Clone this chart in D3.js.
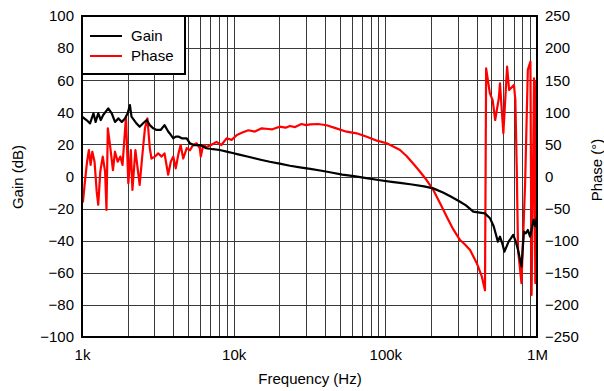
<!DOCTYPE html>
<html><head><meta charset="utf-8">
<script src="https://cdn.jsdelivr.net/npm/d3@7"></script>
<style>body{margin:0;background:#fff}svg{display:block}text{font-family:"Liberation Sans",Arial,sans-serif}</style>
</head><body><div id="chart"></div>
<script>
const gainFreq = [1000,1070,1130,1190,1230,1280,1330,1380,1490,1570,1650,1740,1830,1920,2000,2070,2120,2290,2400,2520,2670,2800,2950,3100,3300,3500,3700,3850,4000,4150,4350,4550,4900,5150,5450,5700,6050,6600,7300,8100,9000,10000,10700,12500,15300,17300,20100,23500,28000,32000,38000,44000,52000,62000,75000,90000,110000,125000,150000,180000,207000,240000,270000,311000,340000,380000,420000,454000,490000,518000,552000,570000,590000,610000,650000,697000,725000,750000,790000,820000,845000,870000,900000,950000,975000,1000000];
const gainDb = [37.3,35.2,33.1,39.4,34,39.4,35.2,38.3,42.5,39.4,34,36.2,34,36.2,39.4,44.5,37.3,33,31,33,35.2,32,30,29,29,32,28,26,23.8,24.8,24.8,23.8,23.8,20.7,19.6,19.6,19.6,17.6,17,16.5,15.5,14.5,13.8,12.3,10.3,9.2,8,6.7,5.5,4.7,3.6,2.5,1.2,0.2,-1,-2.2,-3.3,-4,-5,-6.2,-7.4,-10,-12.5,-15.7,-18,-21.9,-22.5,-23,-26,-31,-40.6,-37.5,-41.6,-46.8,-40.6,-36.4,-40.6,-45.8,-56,-34.4,-35.4,-33.3,-37.5,-27,-31,-25];

const phaseFreq = [1000,1015,1040,1080,1110,1140,1170,1210,1250,1280,1320,1370,1420,1450,1480,1530,1600,1650,1720,1790,1850,1950,2020,2100,2150,2250,2400,2500,2600,2700,2800,2870,3030,3180,3350,3500,3700,3850,4000,4150,4330,4470,4650,4900,5150,5400,5700,5980,6070,6300,6600,7100,7700,8300,8980,9700,10500,11300,12500,13800,15300,16900,18000,20100,22000,23500,25400,28000,30000,31900,36000,41000,47500,55500,64700,75500,88000,102000,112000,125000,138000,152000,170000,187000,207000,230000,254000,280000,311000,335000,362000,401000,433000,454000,462000,489000,510000,530000,560000,570000,600000,635000,655000,705000,720000,735000,750000,790000,835000,870000,905000,921000,956000,975000,990000,1000000];
const phaseDeg = [-37,-39,-13,23,41.3,18,38.6,23,-23.6,-44,7.5,31,7.5,-52,75,49,10,38.6,23,31,18,93,-10.6,41,-21,41,-13,33.5,75,90.6,44,28,31,36,31,36,2.8,23,31,12.7,36,49,28,44,41,49,51.7,44,31,49,46,49,54,49,59.5,57,64.6,68,72,70,75,74,73.5,77.6,76,78.7,77,81.8,80,81.3,81.8,79.8,75,69.8,67.3,62,55.8,51.7,47,41.3,32,20.5,7,-5.5,-21,-42,-62.6,-82,-99,-106,-114.5,-135,-156,-177,168.5,129.6,119,88,121.8,145,67.3,171,134.7,142.5,119,15,-114.5,-166,-10.6,166,179,-184.6,153,-166,150];

const gainTicks = [-100,-80,-60,-40,-20,0,20,40,60,80,100];
const phaseTicks = [-250,-200,-150,-100,-50,0,50,100,150,200,250];
const freqTicks = [1e3,1e4,1e5,1e6];
const freqTickLabels = ["1k","10k","100k","1M"];
const seriesNames = ["Gain","Phase"];
const seriesColors = ["#000000","#ff0000"];

const W = 604, H = 391;
const L = 82, R = 537, T = 16, B = 337;
const svg = d3.select("#chart").append("svg").attr("width", W).attr("height", H);

const x = d3.scaleLog().domain([1e3, 1e6]).range([L, R]);
const yG = d3.scaleLinear().domain([-100, 100]).range([B, T]);
const yP = d3.scaleLinear().domain([-250, 250]).range([B, T]);

// grid
const minor = [];
for (let d = 1e3; d < 1e6; d *= 10) for (let k = 1; k <= 9; k++) minor.push(d * k);
minor.push(1e6);
svg.append("g").selectAll("line").data(minor).join("line")
  .attr("x1", d => Math.round(x(d)) + 0.5).attr("x2", d => Math.round(x(d)) + 0.5)
  .attr("y1", T).attr("y2", B).attr("stroke", "#3a3a3a").attr("stroke-width", 1);
svg.append("g").selectAll("line").data(gainTicks).join("line")
  .attr("x1", L).attr("x2", R)
  .attr("y1", d => Math.round(yG(d)) + 0.5).attr("y2", d => Math.round(yG(d)) + 0.5)
  .attr("stroke", "#3a3a3a").attr("stroke-width", 1);

// data lines
svg.append("clipPath").attr("id", "clp").append("rect")
  .attr("x", L).attr("y", T).attr("width", R - L).attr("height", B - T);
const gainLine = d3.line().x((d, i) => x(gainFreq[i])).y(d => yG(d));
const phaseLine = d3.line().x((d, i) => x(phaseFreq[i])).y(d => yP(d));
const plot = svg.append("g").attr("clip-path", "url(#clp)");
plot.append("path").attr("d", phaseLine(phaseDeg)).attr("fill", "none")
  .attr("stroke", seriesColors[1]).attr("stroke-width", 2.2).attr("stroke-linejoin", "round");
plot.append("path").attr("d", gainLine(gainDb)).attr("fill", "none")
  .attr("stroke", seriesColors[0]).attr("stroke-width", 2.2).attr("stroke-linejoin", "round");

// frame
svg.append("rect").attr("x", L).attr("y", T).attr("width", R - L).attr("height", B - T)
  .attr("fill", "none").attr("stroke", "#000").attr("stroke-width", 2);

// axes
const fs = 15;
const axL = svg.append("g").attr("transform", `translate(${L},0)`)
  .call(d3.axisLeft(yG).tickValues(gainTicks).tickSize(0).tickPadding(8));
const axR = svg.append("g").attr("transform", `translate(${R},0)`)
  .call(d3.axisRight(yP).tickValues(phaseTicks).tickSize(0).tickPadding(8));
const axB = svg.append("g").attr("transform", `translate(0,${B})`)
  .call(d3.axisBottom(x).tickValues(freqTicks).tickFormat((d, i) => freqTickLabels[i]).tickSize(0).tickPadding(12));
[axL, axR, axB].forEach(a => {
  a.select(".domain").remove();
  a.selectAll("text").attr("font-size", fs).attr("fill", "#000")
    .style("font-family", '"Liberation Sans",Arial,sans-serif');
});

// titles
svg.append("text").attr("x", 310).attr("y", 384).attr("text-anchor", "middle")
  .attr("font-size", 15).text("Frequency (Hz)");
svg.append("text").attr("transform", "translate(23,177) rotate(-90)").attr("text-anchor", "middle")
  .attr("font-size", 15).text("Gain (dB)");
svg.append("text").attr("transform", "translate(602,170) rotate(-90)").attr("text-anchor", "middle")
  .attr("font-size", 15).text("Phase (°)");

// legend
const lg = svg.append("g");
lg.append("rect").attr("x", L).attr("y", T).attr("width", 185 - L).attr("height", 74 - T)
  .attr("fill", "#fff").attr("stroke", "#000").attr("stroke-width", 2);
seriesNames.forEach((n, i) => {
  const yy = 36 + i * 20;
  lg.append("line").attr("x1", 90).attr("x2", 122).attr("y1", yy).attr("y2", yy)
    .attr("stroke", seriesColors[i]).attr("stroke-width", 2);
  lg.append("text").attr("x", 131).attr("y", yy + 5).attr("font-size", 15).text(n);
});
</script></body></html>
